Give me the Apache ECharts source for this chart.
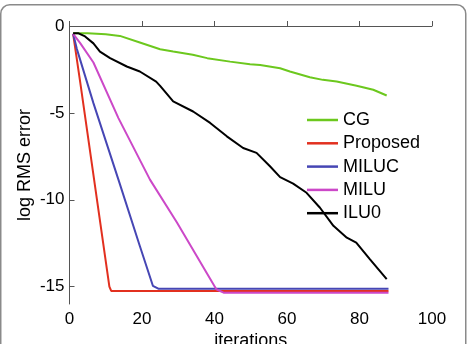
<!DOCTYPE html>
<html>
<head>
<meta charset="utf-8">
<script src="https://cdn.jsdelivr.net/npm/echarts@6/dist/echarts.min.js"></script>
<style>
html,body{margin:0;padding:0;background:#fff;}
#chart{width:470px;height:344px;}
</style>
</head>
<body>
<div id="chart"></div>
<script>
var seriesNames = ['CG', 'Proposed', 'MILUC', 'MILU', 'ILU0'];
var xTicks = [0, 20, 40, 60, 80, 100];
var yTicks = [0, -5, -10, -15];

var cgX = [1, 5, 10, 13.9, 19.4, 25, 28.6, 34, 38, 44.3, 49.8, 52.6, 58.1, 60.8, 66.3, 69.9, 73.7, 79.2, 83.8, 87.5];
var cgY = [-0.42, -0.42, -0.48, -0.57, -0.95, -1.34, -1.47, -1.66, -1.85, -2.05, -2.2, -2.24, -2.43, -2.62, -2.95, -3.1, -3.2, -3.44, -3.67, -4.0];

var proposedX = [1, 3, 11, 11.5, 88];
var proposedY = [-0.45, -3.3, -15.0, -15.25, -15.25];

var milucX = [1, 2, 6.6, 13.5, 19.4, 23, 24.5, 88];
var milucY = [-0.45, -1.3, -4.44, -8.84, -12.66, -14.95, -15.12, -15.12];

var miluX = [1, 3, 6.6, 13.5, 22.2, 29.6, 40.5, 42.5, 88];
var miluY = [-0.45, -1.0, -2.1, -5.3, -8.84, -11.3, -15.15, -15.35, -15.35];

var ilu0X = [1, 2.5, 4.3, 6.6, 8.4, 11.2, 15.8, 19.4, 23.9, 25, 28.6, 34.1, 38.8, 43.4, 47.9, 51.6, 55.3, 58.1, 61.7, 65.4, 69.1, 72.8, 76.5, 79.1, 82.9, 87.5];
var ilu0Y = [-0.42, -0.42, -0.6, -1.0, -1.47, -1.85, -2.33, -2.62, -3.2, -3.45, -4.34, -4.92, -5.58, -6.35, -7.02, -7.3, -8.07, -8.7, -9.07, -9.6, -10.46, -11.5, -12.18, -12.47, -13.43, -14.57];

var colors = ['#6cc81e', '#e2301f', '#4646b4', '#cc48c8', '#000000'];

function pairs(xs, ys) { return xs.map(function (x, i) { return [x, ys[i]]; }); }
var allData = [pairs(cgX, cgY), pairs(proposedX, proposedY), pairs(milucX, milucY), pairs(miluX, miluY), pairs(ilu0X, ilu0Y)];

var font = '"Liberation Sans", Arial, sans-serif';
var chart = echarts.init(document.getElementById('chart'), null, {renderer: 'canvas'});
chart.setOption({
  animation: false,
  backgroundColor: '#fff',
  color: colors,
  grid: {left: 69.5, right: 38, top: 26, bottom: 40, containLabel: false, outerBoundsMode: 'none'},
  graphic: [{
    type: 'rect', z: -1, silent: true,
    shape: {x: 0.75, y: 4.75, width: 465, height: 380, r: 9},
    style: {fill: 'none', stroke: '#8a8a8a', lineWidth: 1.5}
  }],
  legend: {
    orient: 'vertical', left: 307, top: 110, padding: 0,
    itemWidth: 31, itemHeight: 2.5, itemGap: 3.3, icon: 'rect',
    data: seriesNames,
    textStyle: {fontFamily: font, fontSize: 18, color: '#000', lineHeight: 20}
  },
  xAxis: {
    type: 'value', min: 0, max: 100, interval: 20,
    name: 'iterations', nameLocation: 'middle', nameGap: 28, nameMoveOverlap: false,
    nameTextStyle: {fontFamily: font, fontSize: 18, color: '#000'},
    axisLine: {lineStyle: {color: '#555', width: 1}},
    axisTick: {inside: true, length: 5, lineStyle: {color: '#555'}},
    axisLabel: {fontFamily: font, fontSize: 17, color: '#000', margin: 7},
    splitLine: {show: false}
  },
  yAxis: {
    type: 'value', min: -16, max: 0,
    name: 'log RMS error', nameLocation: 'middle', nameGap: 35, nameRotate: 90, nameMoveOverlap: false,
    nameTextStyle: {fontFamily: font, fontSize: 18, color: '#000'},
    axisLine: {show: true, lineStyle: {color: '#555', width: 1}},
    axisTick: {show: true, inside: true, length: 5, lineStyle: {color: '#555'}, customValues: yTicks},
    axisLabel: {fontFamily: font, fontSize: 17, color: '#000', margin: 5, customValues: yTicks},
    splitLine: {show: false}
  },
  series: seriesNames.map(function (n, i) {
    return {
      name: n, type: 'line', data: allData[i], symbol: 'none',
      lineStyle: {width: 2, color: colors[i]}, z: i === 4 ? 3 : 2
    };
  })
});
</script>
</body>
</html>
